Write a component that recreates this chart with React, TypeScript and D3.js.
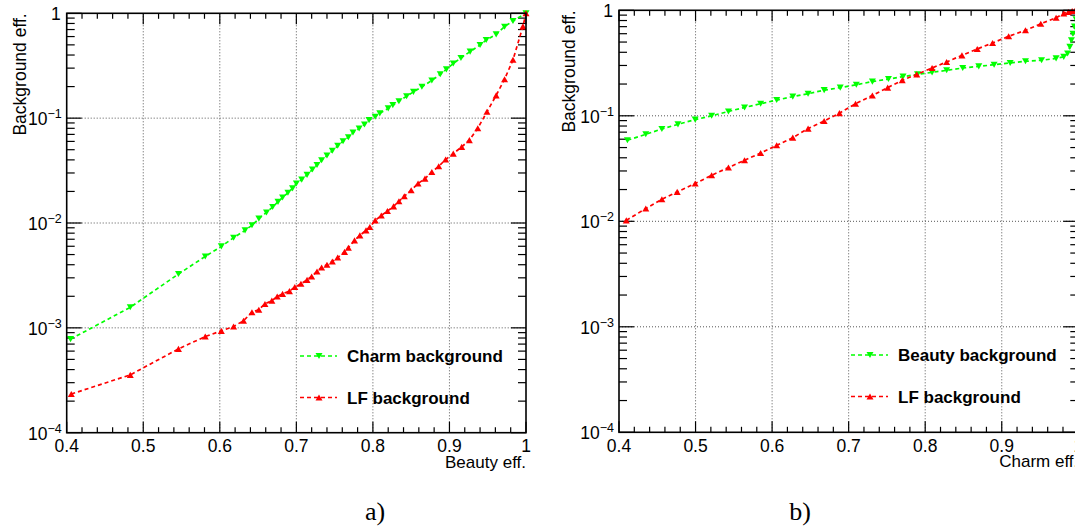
import React from "react";
import * as d3 from "d3";

// ---------- data ----------
const xTicks = [0.4, 0.5, 0.6, 0.7, 0.8, 0.9, 1.0];
const xTickLabels = ["0.4", "0.5", "0.6", "0.7", "0.8", "0.9", "1"];
const yDecades = [-4, -3, -2, -1, 0];

// panel a) : x = Beauty eff.
const aCharmX = [0.405, 0.483, 0.546, 0.581, 0.602, 0.618, 0.633, 0.642, 0.651, 0.661, 0.669, 0.676, 0.682, 0.689, 0.695, 0.7, 0.707, 0.714, 0.721, 0.727, 0.733, 0.74, 0.747, 0.754, 0.761, 0.768, 0.774, 0.782, 0.789, 0.795, 0.803, 0.809, 0.82, 0.826, 0.834, 0.844, 0.853, 0.864, 0.877, 0.888, 0.896, 0.905, 0.915, 0.927, 0.94, 0.948, 0.961, 0.972, 0.983, 1.0];
const aCharmY = [0.00078, 0.00157, 0.00326, 0.0048, 0.00598, 0.00724, 0.00851, 0.00951, 0.011, 0.0126, 0.0142, 0.0159, 0.0175, 0.0194, 0.0214, 0.0238, 0.0259, 0.0288, 0.0324, 0.0358, 0.0397, 0.044, 0.0488, 0.0545, 0.0603, 0.0658, 0.0729, 0.0796, 0.0869, 0.0957, 0.103, 0.111, 0.124, 0.133, 0.145, 0.162, 0.178, 0.199, 0.229, 0.262, 0.292, 0.332, 0.375, 0.431, 0.498, 0.556, 0.63, 0.745, 0.845, 1.0];

const aLfX = [0.406, 0.483, 0.546, 0.581, 0.602, 0.618, 0.631, 0.642, 0.651, 0.659, 0.668, 0.675, 0.682, 0.691, 0.698, 0.706, 0.714, 0.72, 0.727, 0.733, 0.74, 0.747, 0.754, 0.763, 0.768, 0.776, 0.783, 0.791, 0.796, 0.803, 0.811, 0.819, 0.827, 0.834, 0.841, 0.85, 0.859, 0.868, 0.877, 0.886, 0.895, 0.905, 0.916, 0.926, 0.937, 0.949, 0.961, 0.972, 0.983, 0.996, 1.0];
const aLfY = [0.000234, 0.000356, 0.00063, 0.000826, 0.000936, 0.00103, 0.00117, 0.00141, 0.00149, 0.00169, 0.00182, 0.00199, 0.00211, 0.00224, 0.00245, 0.00263, 0.00287, 0.00309, 0.00345, 0.00377, 0.004, 0.0043, 0.00468, 0.0053, 0.0058, 0.00683, 0.00762, 0.00851, 0.00916, 0.0106, 0.0118, 0.013, 0.0144, 0.0161, 0.018, 0.0205, 0.0238, 0.0265, 0.0307, 0.0348, 0.0403, 0.0459, 0.0532, 0.0617, 0.08, 0.115, 0.165, 0.235, 0.36, 0.75, 1.0];

// panel b) : x = Charm eff.
const bBeautyX = [0.411, 0.435, 0.456, 0.477, 0.4995, 0.521, 0.543, 0.564, 0.585, 0.606, 0.627, 0.647, 0.668, 0.689, 0.71, 0.731, 0.752, 0.771, 0.79, 0.809, 0.828, 0.849, 0.87, 0.89, 0.911, 0.931, 0.952, 0.971, 0.981, 0.986, 0.989, 0.991, 0.993, 0.995, 0.997, 1.0];
const bBeautyY = [0.0586, 0.0668, 0.075, 0.083, 0.092, 0.1, 0.11, 0.12, 0.13, 0.141, 0.152, 0.162, 0.175, 0.185, 0.197, 0.211, 0.223, 0.235, 0.247, 0.258, 0.27, 0.284, 0.294, 0.305, 0.317, 0.329, 0.336, 0.35, 0.362, 0.39, 0.45, 0.52, 0.6, 0.7, 0.82, 1.0];

const bLfX = [0.4095, 0.435, 0.456, 0.476, 0.4995, 0.521, 0.543, 0.564, 0.585, 0.606, 0.627, 0.647, 0.668, 0.688, 0.709, 0.731, 0.751, 0.77, 0.789, 0.809, 0.828, 0.848, 0.868, 0.888, 0.909, 0.931, 0.951, 0.971, 0.981, 0.987, 0.992, 0.996];
const bLfY = [0.0102, 0.0132, 0.0162, 0.019, 0.0228, 0.0273, 0.0323, 0.0379, 0.0444, 0.0525, 0.0621, 0.0756, 0.0893, 0.106, 0.13, 0.156, 0.185, 0.217, 0.247, 0.284, 0.324, 0.374, 0.43, 0.49, 0.567, 0.646, 0.745, 0.85, 0.935, 0.965, 0.985, 1.0];

const GREEN = "#00ff00";
const RED = "#ff0000";
const FONT = "'Liberation Sans', Arial, Helvetica, sans-serif";

type Series = { xs: number[]; ys: number[]; color: string; down: boolean; label: string };

function tri(cx: number, cy: number, down: boolean, s = 7) {
  const h = s * 0.87;
  if (down) return `M${cx - s / 2},${cy - h / 2}L${cx + s / 2},${cy - h / 2}L${cx},${cy + h / 2}Z`;
  return `M${cx - s / 2},${cy + h / 2}L${cx + s / 2},${cy + h / 2}L${cx},${cy - h / 2}Z`;
}

function Panel(props: {
  id: string;
  x0: number; x1: number; y0: number; y1: number;
  series: Series[]; xTitle: string; yTitleX: number;
  legX: number; legY: number[];
}) {
  const { id, x0, x1, y0, y1, series, xTitle, yTitleX, legX, legY } = props;
  const x = d3.scaleLinear().domain([0.4, 1]).range([x0, x1]);
  const y = d3.scaleLog().domain([1e-4, 1]).range([y1, y0]);
  const minorX = d3.range(0.4, 1.0001, 0.02).filter((v) => Math.abs(Math.round(v * 10) - v * 10) > 1e-6);
  const minorY: number[] = [];
  yDecades.slice(0, -1).forEach((e) => {
    for (let k = 2; k <= 9; k++) minorY.push(k * Math.pow(10, e));
  });
  const grid = "#555";
  return (
    <g>
      <defs>
        <clipPath id={`clip-${id}`}>
          <rect x={x0} y={y0 - 6} width={x1 - x0 + 6} height={y1 - y0 + 6} />
        </clipPath>
      </defs>
      {xTicks.slice(1, -1).map((v) => (
        <line key={"gx" + v} x1={x(v)} x2={x(v)} y1={y0} y2={y1} stroke={grid} strokeWidth={1} strokeDasharray="1,2" />
      ))}
      {yDecades.slice(1, -1).map((e) => (
        <line key={"gy" + e} x1={x0} x2={x1} y1={y(Math.pow(10, e))} y2={y(Math.pow(10, e))} stroke={grid} strokeWidth={1} strokeDasharray="1,2" />
      ))}
      {xTicks.map((v) => (
        <g key={"tx" + v}>
          <line x1={x(v)} x2={x(v)} y1={y1} y2={y1 - 11} stroke="#000" strokeWidth={1.2} />
          <line x1={x(v)} x2={x(v)} y1={y0} y2={y0 + 11} stroke="#000" strokeWidth={1.2} />
        </g>
      ))}
      {minorX.map((v) => (
        <g key={"mx" + v}>
          <line x1={x(v)} x2={x(v)} y1={y1} y2={y1 - 5.5} stroke="#000" strokeWidth={1.2} />
          <line x1={x(v)} x2={x(v)} y1={y0} y2={y0 + 5.5} stroke="#000" strokeWidth={1.2} />
        </g>
      ))}
      {yDecades.map((e) => (
        <g key={"ty" + e}>
          <line x1={x0} x2={x0 + 15} y1={y(Math.pow(10, e))} y2={y(Math.pow(10, e))} stroke="#000" strokeWidth={1.2} />
          <line x1={x1} x2={x1 - 15} y1={y(Math.pow(10, e))} y2={y(Math.pow(10, e))} stroke="#000" strokeWidth={1.2} />
        </g>
      ))}
      {minorY.map((v) => (
        <g key={"my" + v}>
          <line x1={x0} x2={x0 + 8} y1={y(v)} y2={y(v)} stroke="#000" strokeWidth={1.2} />
          <line x1={x1} x2={x1 - 8} y1={y(v)} y2={y(v)} stroke="#000" strokeWidth={1.2} />
        </g>
      ))}
      <g clipPath={`url(#clip-${id})`}>
        {series.map((s) => {
          const gen = d3.line<number>().x((_, i) => x(s.xs[i])).y((_, i) => y(s.ys[i]));
          return (
            <g key={s.label}>
              <path d={gen(s.xs) || ""} fill="none" stroke={s.color} strokeWidth={1.7} strokeDasharray="4,3" />
              {s.xs.map((xv, i) => (
                <path key={i} d={tri(x(xv), y(s.ys[i]), s.down)} fill={s.color} />
              ))}
            </g>
          );
        })}
      </g>
      <rect x={x0} y={y0} width={x1 - x0} height={y1 - y0} fill="none" stroke="#000" strokeWidth={1.6} />
      {xTicks.map((v, i) => (
        <text key={"lx" + v} x={x(v)} y={y1 + 19.5} textAnchor="middle" fontFamily={FONT} fontSize={17.5}>
          {xTickLabels[i]}
        </text>
      ))}
      {yDecades.map((e) =>
        e === 0 ? (
          <text key={"ly" + e} x={x0 - 6} y={y(1) + 6.5} textAnchor="end" fontFamily={FONT} fontSize={17.5}>1</text>
        ) : (
          <text key={"ly" + e} x={x0 - 5} y={y(Math.pow(10, e)) + 7} textAnchor="end" fontFamily={FONT} fontSize={17.5}>
            <tspan>10</tspan>
            <tspan dy={-7} fontSize={12.5}>{"\u2212" + Math.abs(e)}</tspan>
          </text>
        )
      )}
      <text x={x1} y={y1 + 35} textAnchor="end" fontFamily={FONT} fontSize={17}>{xTitle}</text>
      <text transform={`translate(${yTitleX},${y0}) rotate(-90)`} textAnchor="end" fontFamily={FONT} fontSize={17.5}>
        Background eff.
      </text>
      {series.map((s, i) => (
        <g key={"leg" + s.label}>
          <line x1={legX} x2={legX + 37} y1={legY[i]} y2={legY[i]} stroke={s.color} strokeWidth={1.7} strokeDasharray="4,3" />
          <path d={tri(legX + 19, legY[i], s.down)} fill={s.color} />
          <text x={legX + 47} y={legY[i] + 6} fontFamily={FONT} fontSize={17} fontWeight="bold">{s.label}</text>
        </g>
      ))}
    </g>
  );
}

export default function App() {
  const seriesA: Series[] = [
    { xs: aCharmX, ys: aCharmY, color: GREEN, down: true, label: "Charm background" },
    { xs: aLfX, ys: aLfY, color: RED, down: false, label: "LF background" },
  ];
  const seriesB: Series[] = [
    { xs: bBeautyX, ys: bBeautyY, color: GREEN, down: true, label: "Beauty background" },
    { xs: bLfX, ys: bLfY, color: RED, down: false, label: "LF background" },
  ];
  return (
    <svg width={1075} height={528} style={{ position: "absolute", left: 0, top: 0, background: "#fff" }}>
      <rect x={0} y={0} width={1075} height={528} fill="#fff" />
      <Panel id="a" x0={66.7} x1={526} y0={13.3} y1={432.7} series={seriesA} xTitle="Beauty eff." yTitleX={25.5} legX={300} legY={[356, 397.5]} />
      <Panel id="b" x0={619} x1={1078.3} y0={10.3} y1={432.3} series={seriesB} xTitle="Charm eff." yTitleX={575} legX={851} legY={[355, 396.5]} />
      <text x={375} y={520} textAnchor="middle" fontFamily="'Liberation Serif', 'Times New Roman', serif" fontSize={26}>a)</text>
      <text x={800} y={520} textAnchor="middle" fontFamily="'Liberation Serif', 'Times New Roman', serif" fontSize={26}>b)</text>
    </svg>
  );
}
